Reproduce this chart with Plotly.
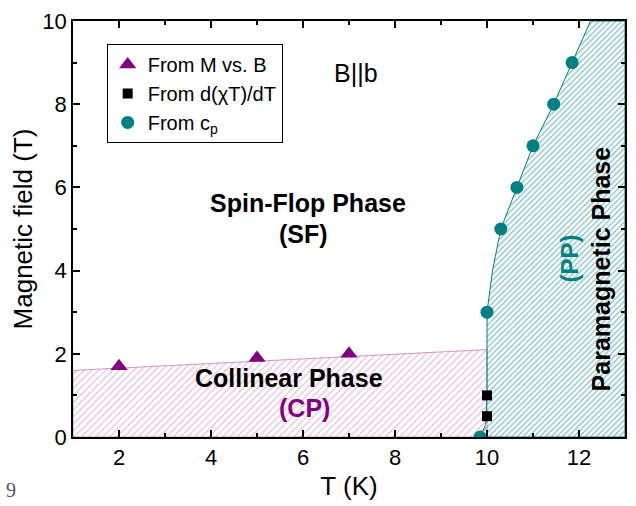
import plotly.graph_objects as go

# Measured phase-boundary points
t_mvsb = [2.0, 5.0, 7.0]
b_mvsb = [1.7, 1.9, 2.0]

t_chi = [10.0, 10.0]
b_chi = [0.5, 1.0]

t_cp = [9.85, 10.0, 10.3, 10.65, 11.0, 11.45, 11.85]
b_cp = [0.0, 3.0, 5.0, 6.0, 7.0, 8.0, 9.0]

# Collinear / spin-flop boundary (straight line through M vs. B points)
t_cp_edge = [1.0, 10.0]
b_cp_edge = [1.6, 2.1]

# Paramagnetic boundary (follows the c_p points up to the top of the frame)
t_pp_edge = [9.85, 9.97, 10.0, 10.0, 10.12, 10.3, 10.65, 11.0, 11.45, 11.85, 12.25]
b_pp_edge = [0.0, 0.3, 1.0, 3.0, 4.0, 5.0, 6.0, 7.0, 8.0, 9.0, 10.0]

T_MIN, T_MAX = 1, 13
B_MIN, B_MAX = 0, 10

PURPLE = "#800080"
TEAL = "#008080"
PINK = "#cf96c3"
FONT = "Arial, Liberation Sans, sans-serif"

fig = go.Figure()

# Collinear phase region (pink hatch)
fig.add_trace(go.Scatter(
    x=[T_MIN] + t_cp_edge + [t_cp_edge[-1], T_MIN],
    y=[B_MIN] + b_cp_edge + [B_MIN, B_MIN],
    mode="lines", fill="toself",
    line=dict(color=PINK, width=1),
    fillcolor="rgba(0,0,0,0)",
    fillpattern=dict(shape="/", fgcolor=PINK, size=5, solidity=0.3),
    showlegend=False, hoverinfo="skip",
))

# Paramagnetic phase region (teal hatch)
fig.add_trace(go.Scatter(
    x=t_pp_edge + [T_MAX, T_MAX, t_pp_edge[0]],
    y=b_pp_edge + [B_MAX, B_MIN, B_MIN],
    mode="lines", fill="toself",
    line=dict(color=TEAL, width=1),
    fillcolor="rgba(0,0,0,0)",
    fillpattern=dict(shape="/", fgcolor=TEAL, size=4, solidity=0.3),
    showlegend=False, hoverinfo="skip",
))

fig.add_trace(go.Scatter(
    x=t_mvsb, y=b_mvsb, mode="markers", name="From M vs. B",
    marker=dict(symbol="triangle-up", size=15, color=PURPLE),
))
fig.add_trace(go.Scatter(
    x=t_chi, y=b_chi, mode="markers", name="From d(\u03c7T)/dT",
    marker=dict(symbol="square", size=10, color="black"),
))
fig.add_trace(go.Scatter(
    x=t_cp, y=b_cp, mode="markers", name="From c<sub>p</sub>",
    marker=dict(symbol="circle", size=13, color=TEAL),
))

labels = [
    dict(x=7.16, y=8.76, text="B||b", font=dict(size=25, color="black")),
    dict(x=6.1, y=5.63, text="<b>Spin-Flop Phase</b>", font=dict(size=25, color="black")),
    dict(x=6.0, y=4.89, text="<b>(SF)</b>", font=dict(size=25, color="black")),
    dict(x=5.69, y=1.41, text="<b>Collinear Phase</b>", font=dict(size=25, color="black")),
    dict(x=6.04, y=0.69, text="<b>(CP)</b>", font=dict(size=25, color=PURPLE)),
    dict(x=12.48, y=4.03, text="<b>Paramagnetic Phase</b>", textangle=-90,
         font=dict(size=25, color="black")),
    dict(x=11.79, y=4.3, text="<b>(PP)</b>", textangle=-90, font=dict(size=24, color=TEAL)),
]
for a in labels:
    a["font"]["family"] = FONT
    fig.add_annotation(showarrow=False, xref="x", yref="y", **a)

# Page number at the lower-left corner
fig.add_annotation(x=-0.113, y=-0.128, xref="paper", yref="paper", text="9",
                   showarrow=False, xanchor="center", yanchor="middle",
                   font=dict(family="Liberation Serif, serif", size=20, color="#555555"))

axis_common = dict(
    showline=True, linecolor="black", linewidth=1.5, mirror="ticks",
    ticks="inside", ticklen=7, tickwidth=1.5, tickcolor="black",
    showgrid=False, zeroline=False,
    tickfont=dict(family=FONT, size=22, color="black"),
    minor=dict(ticks="inside", ticklen=4, tickwidth=1.5, tickcolor="black", dtick=1),
    dtick=2,
)

fig.update_xaxes(range=[T_MIN, T_MAX], tick0=0,
                 title=dict(text="T (K)", font=dict(family=FONT, size=26, color="black"), standoff=8),
                 **axis_common)
fig.update_yaxes(range=[B_MIN, B_MAX], tick0=0,
                 title=dict(text="Magnetic field (T)", font=dict(family=FONT, size=26, color="black"), standoff=2),
                 **axis_common)

fig.update_layout(
    width=636, height=506,
    margin=dict(l=73, r=9, t=18, b=69),
    plot_bgcolor="white", paper_bgcolor="white",
    legend=dict(
        x=0.061, y=0.945, xanchor="left", yanchor="top",
        bordercolor="black", borderwidth=1, bgcolor="white",
        font=dict(family=FONT, size=20, color="black"),
        tracegroupgap=0, itemwidth=30,
    ),
)

fig.write_html("out.html")
